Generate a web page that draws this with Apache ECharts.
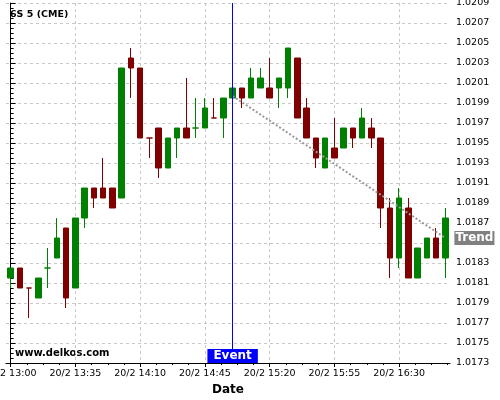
<!DOCTYPE html>
<html><head><meta charset="utf-8">
<script src="https://cdn.jsdelivr.net/npm/echarts@6/dist/echarts.min.js"></script>
<style>html,body{margin:0;padding:0;background:#fff}#c{width:500px;height:400px}</style>
</head><body><div id="c"></div>
<script>
const categories = [
  "20/2 13:00","20/2 13:05","20/2 13:10","20/2 13:15","20/2 13:20","20/2 13:25","20/2 13:30",
  "20/2 13:35","20/2 13:40","20/2 13:45","20/2 13:50","20/2 13:55","20/2 14:00","20/2 14:05",
  "20/2 14:10","20/2 14:15","20/2 14:20","20/2 14:25","20/2 14:30","20/2 14:35","20/2 14:40",
  "20/2 14:45","20/2 14:50","20/2 14:55","20/2 15:00","20/2 15:05","20/2 15:10","20/2 15:15",
  "20/2 15:20","20/2 15:25","20/2 15:30","20/2 15:35","20/2 15:40","20/2 15:45","20/2 15:50",
  "20/2 15:55","20/2 16:00","20/2 16:05","20/2 16:10","20/2 16:15","20/2 16:20","20/2 16:25",
  "20/2 16:30","20/2 16:35","20/2 16:40","20/2 16:45","20/2 16:50","20/2 16:55"
];
const opens  = [1.01815,1.01825,1.01805,1.01795,1.01825,1.01835,1.01865,1.01805,1.01875,1.01905,1.01905,1.01905,
                1.01895,1.02035,1.02025,1.01955,1.01965,1.01925,1.01955,1.01965,1.01965,1.01965,1.01975,1.01975,
                1.01995,1.02005,1.01995,1.02005,1.02005,1.02005,1.02005,1.02035,1.01985,1.01955,1.01925,1.01945,
                1.01945,1.01965,1.01955,1.01965,1.01955,1.01885,1.01835,1.01885,1.01815,1.01835,1.01855,1.01835];
const closes = [1.01825,1.01805,1.01805,1.01815,1.01825,1.01855,1.01795,1.01875,1.01905,1.01895,1.01895,1.01885,
                1.02025,1.02025,1.01955,1.01955,1.01925,1.01955,1.01965,1.01955,1.01965,1.01985,1.01975,1.01995,
                1.02005,1.01995,1.02015,1.02015,1.01995,1.02015,1.02045,1.01975,1.01955,1.01935,1.01955,1.01935,
                1.01965,1.01955,1.01975,1.01955,1.01885,1.01835,1.01895,1.01815,1.01845,1.01855,1.01835,1.01875];
const lows   = [1.01805,1.01805,1.01775,1.01795,1.01805,1.01835,1.01785,1.01805,1.01865,1.01885,1.01895,1.01885,
                1.01895,1.01995,1.01955,1.01935,1.01915,1.01925,1.01935,1.01955,1.01955,1.01965,1.01975,1.01955,
                1.01995,1.01985,1.01995,1.02005,1.01995,1.01985,1.01995,1.01975,1.01955,1.01925,1.01925,1.01935,
                1.01945,1.01945,1.01955,1.01945,1.01865,1.01815,1.01825,1.01815,1.01815,1.01835,1.01835,1.01815];
const highs  = [1.01825,1.01825,1.01805,1.01815,1.01845,1.01875,1.01865,1.01875,1.01905,1.01905,1.01935,1.01905,
                1.02025,1.02045,1.02025,1.01955,1.01965,1.01955,1.01965,1.02015,1.01995,1.01995,1.01995,1.01995,
                1.02005,1.02005,1.02025,1.02025,1.02035,1.02015,1.02045,1.02035,1.01995,1.01955,1.01955,1.01975,
                1.01965,1.01965,1.01985,1.01975,1.01955,1.01895,1.01905,1.01895,1.01845,1.01855,1.01865,1.01885];
const bearishDoji = [2, 15, 22];
const eventIndex = 24;
const trendStart = 1.01997;
const trendEnd = 1.01855;
const yMin = 1.0173, yMax = 1.0209, yStep = 0.0002;
const majorXTicksEvery = 7;

const UP = '#008000', DOWN = '#800000';
const FONT = 'DejaVu Sans';

const candleData = categories.map((c, i) => {
  const item = { value: [opens[i], closes[i], lows[i], highs[i]] };
  if (bearishDoji.indexOf(i) >= 0) item.itemStyle = { color: DOWN, color0: DOWN, borderColor: DOWN, borderColor0: DOWN };
  return item;
});

const minorXTicks = [];
for (let k = 0; k * (majorXTicksEvery / 4) <= categories.length - 0.5; k++) minorXTicks.push(k * majorXTicksEvery / 4);

const chart = echarts.init(document.getElementById('c'), null, { renderer: 'canvas' });
chart.setOption({
  animation: false,
  backgroundColor: '#fff',
  grid: { left: 6, right: 50, top: 3, bottom: 37, outerBoundsMode: 'none', containLabel: false },
  graphic: [
    { type: 'text', left: 10, top: 10, style: { text: '6S 5 (CME)', font: 'bold 9.5px "DejaVu Sans"', fill: '#000' } },
    { type: 'text', left: 15, top: 348, style: { text: 'www.delkos.com', font: 'bold 10px "DejaVu Sans"', fill: '#000' } }
  ],
  xAxis: [
    {
      type: 'category', data: categories, boundaryGap: true,
      name: 'Date', nameLocation: 'middle', nameGap: 19,
      nameTextStyle: { fontFamily: FONT, fontWeight: 'bold', fontSize: 12, color: '#000' },
      axisLine: { show: true, lineStyle: { color: '#000', width: 1 } },
      axisTick: { show: true, interval: majorXTicksEvery - 1, alignWithLabel: true, length: 4, lineStyle: { color: '#000' } },
      axisLabel: { interval: majorXTicksEvery - 1, fontFamily: FONT, fontSize: 9.5, color: '#000', margin: 6, hideOverlap: false },
      splitLine: { show: true, interval: majorXTicksEvery - 1, alignWithLabel: true, lineStyle: { color: '#c8c8c8', type: [3, 3] } }
    },
    {
      type: 'value', min: -0.5, max: categories.length - 0.5, position: 'bottom',
      axisLine: { show: false },
      axisTick: { show: true, customValues: minorXTicks, length: 2, lineStyle: { color: '#000' } },
      axisLabel: { show: false },
      splitLine: { show: false }
    }
  ],
  yAxis: {
    type: 'value', position: 'right', min: yMin, max: yMax, interval: yStep, scale: true,
    axisLine: { show: true, lineStyle: { color: '#000', width: 1 } },
    axisTick: { show: true, length: 5, lineStyle: { color: '#000' } },
    minorTick: { show: true, splitNumber: 4, length: 3, lineStyle: { color: '#000' } },
    axisLabel: { fontFamily: FONT, fontSize: 9.5, color: '#000', margin: 6, formatter: v => v.toFixed(4) },
    splitLine: { show: true, lineStyle: { color: '#c8c8c8', type: [3, 3] } }
  },
  series: [
    {
      type: 'candlestick', xAxisIndex: 0, data: candleData, barWidth: 6, clip: false,
      itemStyle: { color: UP, color0: DOWN, borderColor: UP, borderColor0: DOWN, borderWidth: 1 },
      markLine: {
        silent: true, symbol: ['none', 'none'], label: { show: false },
        lineStyle: { color: '#0000ff', type: 'solid', width: 1 },
        data: [{ xAxis: categories[eventIndex] }]
      },
      markPoint: {
        silent: true, symbol: 'rect', symbolSize: 0,
        data: [{ coord: [categories[eventIndex], yMin] }],
        label: {
          show: true, formatter: 'Event', position: 'top', distance: 0,
          color: '#fff', fontFamily: FONT, fontWeight: 'bold', fontSize: 12,
          backgroundColor: '#0000ff', padding: [1, 6, 1, 6]
        }
      }
    },
    {
      type: 'line', xAxisIndex: 0, symbol: 'none', silent: true,
      data: [[categories[eventIndex], trendStart], [categories[categories.length - 1], trendEnd]],
      lineStyle: { color: '#999', width: 2, type: [2, 2] },
      endLabel: {
        show: true, formatter: 'Trend', distance: 9,
        color: '#fff', fontFamily: FONT, fontWeight: 'bold', fontSize: 12,
        backgroundColor: '#808080', padding: [1, 1, 1, 1]
      }
    }
  ]
});
</script>
</body></html>
